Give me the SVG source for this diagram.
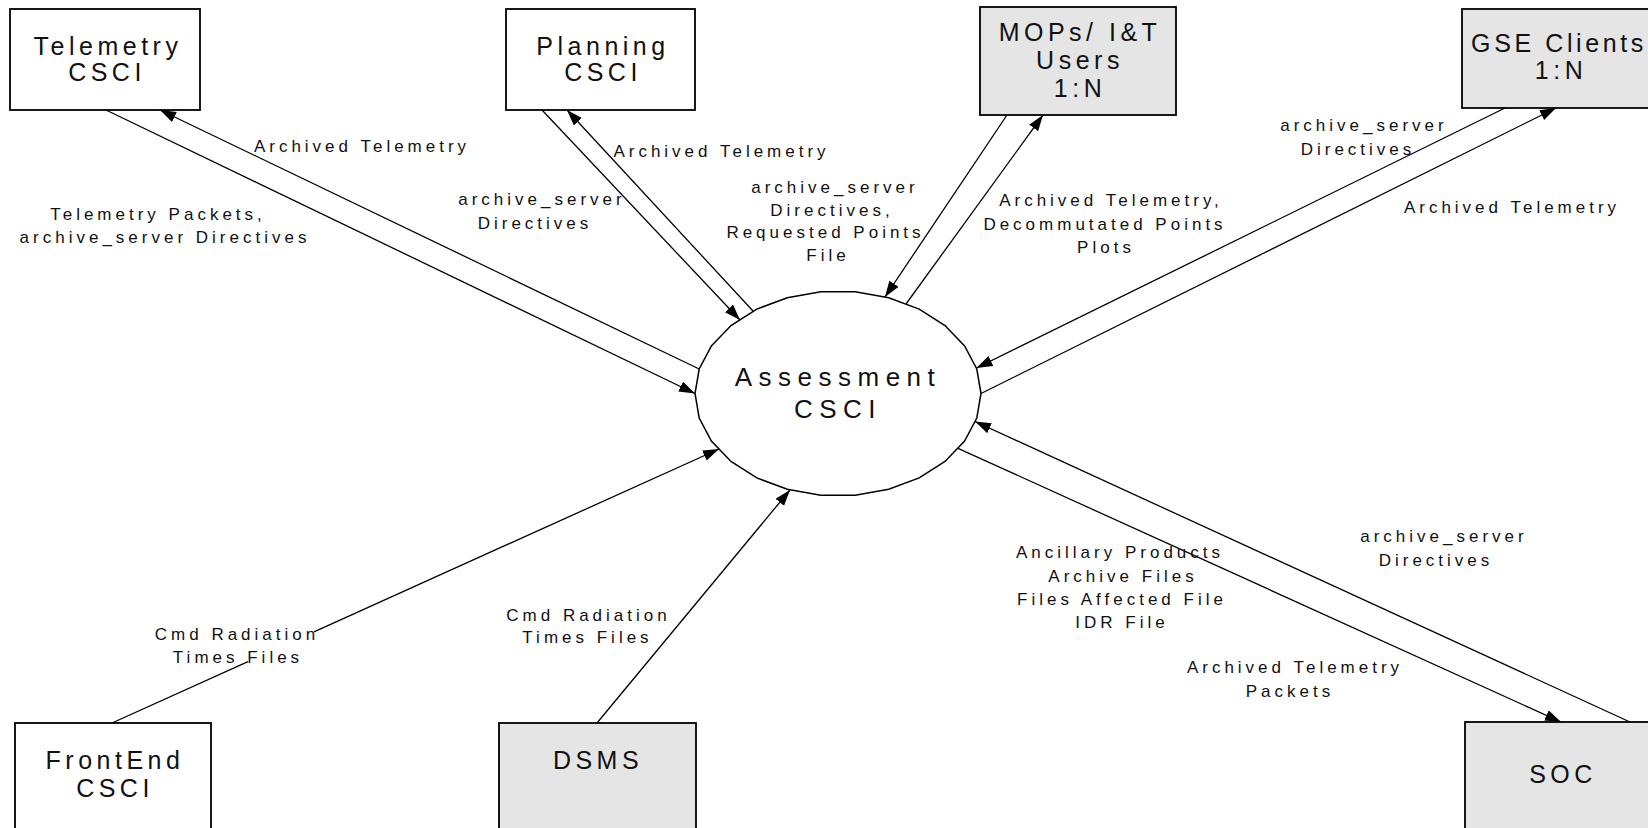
<svg xmlns="http://www.w3.org/2000/svg" width="1648" height="828" viewBox="0 0 1648 828">
<style>
.box{fill:#fff;stroke:#000;stroke-width:1.8}
.ext{fill:#e5e5e5;stroke:#000;stroke-width:1.8}
.bt{font-family:"Liberation Sans",Arial,sans-serif;font-size:25px;letter-spacing:4.5px;fill:#111;text-anchor:middle}
.lb{font-family:"Liberation Sans",Arial,sans-serif;font-size:17px;letter-spacing:4px;fill:#111;text-anchor:middle}
.cn{fill:none;stroke:#000;stroke-width:1.3;marker-end:url(#arr)}
</style>
<defs>
<marker id="arr" markerUnits="userSpaceOnUse" markerWidth="17" markerHeight="12" refX="16" refY="5.5" orient="auto">
<path d="M0,0 L16,5.5 L0,11 z" fill="#000"/>
</marker>
</defs>
<rect width="1648" height="828" fill="#fff"/>

<g id="connectors">
<path class="cn" d="M106,110 L695,393.5"/>
<path class="cn" d="M699.2,369 L160,110"/>
<path class="cn" d="M542,110 L740,320"/>
<path class="cn" d="M753,311 L567,110"/>
<path class="cn" d="M1007,115 L885,297"/>
<path class="cn" d="M906,304 L1043,115"/>
<path class="cn" d="M1505,108 L976.5,368"/>
<path class="cn" d="M981,393.5 L1556,108"/>
<path class="cn" d="M958,448.3 L1561,722"/>
<path class="cn" d="M1630,722 L975,421.5"/>
<path class="cn" d="M112,723 L248,661.6 M314,631.8 L719,449"/>
<path class="cn" d="M597,723 L790,490"/>
</g>

<g id="labels">
<text class="lb" x="362" y="152">Archived Telemetry</text>
<text class="lb" x="158" y="220">Telemetry Packets,</text>
<text class="lb" x="165" y="243">archive_server Directives</text>
<text class="lb" x="721.5" y="157">Archived Telemetry</text>
<text class="lb" x="542" y="205">archive_server</text>
<text class="lb" x="535" y="229">Directives</text>
<text class="lb" x="835" y="193">archive_server</text>
<text class="lb" x="832" y="216">Directives,</text>
<text class="lb" x="825.5" y="238">Requested Points</text>
<text class="lb" x="828" y="261">File</text>
<text class="lb" x="1111" y="206">Archived Telemetry,</text>
<text class="lb" x="1105" y="230">Decommutated Points</text>
<text class="lb" x="1106" y="253">Plots</text>
<text class="lb" x="1364" y="131">archive_server</text>
<text class="lb" x="1358" y="155">Directives</text>
<text class="lb" x="1512" y="213">Archived Telemetry</text>
<text class="lb" x="237" y="640">Cmd Radiation</text>
<text class="lb" x="238" y="663">Times Files</text>
<text class="lb" x="588.5" y="621">Cmd Radiation</text>
<text class="lb" x="587.5" y="643">Times Files</text>
<text class="lb" x="1444" y="542">archive_server</text>
<text class="lb" x="1436" y="566">Directives</text>
<text class="lb" x="1295" y="673">Archived Telemetry</text>
<text class="lb" x="1290" y="697">Packets</text>
<text class="lb" x="1120" y="558">Ancillary Products</text>
<text class="lb" x="1123" y="582">Archive Files</text>
<text class="lb" x="1122" y="605">Files Affected File</text>
<text class="lb" x="1122" y="628">IDR File</text>
</g>

<g id="telemetry">
<rect class="box" x="10" y="9" width="190" height="101"/>
<text class="bt" x="108" y="55">Telemetry</text>
<text class="bt" x="107" y="81">CSCI</text>
</g>
<g id="planning">
<rect class="box" x="506" y="9" width="189" height="101"/>
<text class="bt" x="603" y="55">Planning</text>
<text class="bt" x="603" y="81">CSCI</text>
</g>
<g id="mops">
<rect class="ext" x="980" y="7" width="196" height="108"/>
<text class="bt" x="1080" y="41">MOPs/ I&amp;T</text>
<text class="bt" x="1080" y="69">Users</text>
<text class="bt" x="1080" y="97">1:N</text>
</g>
<g id="gse">
<rect class="ext" x="1462" y="9" width="196" height="99"/>
<text class="bt" style="letter-spacing:3.6px" x="1559" y="52">GSE Clients</text>
<text class="bt" x="1561" y="79">1:N</text>
</g>
<g id="assessment">
<polygon fill="#fff" stroke="#000" stroke-width="1.5" points="981,393.5 976.8,369 964.6,345.9 945,325.5 919.2,309.1 888.7,297.7 855.2,291.75 820.8,291.75 787.3,297.7 756.8,309.1 731,325.5 711.4,345.9 699.2,369 695,393.5 699.2,418 711.4,441.1 731,461.5 756.8,477.9 787.3,489.3 820.8,495.25 855.2,495.25 888.7,489.3 919.2,477.9 945,461.5 964.6,441.1 976.8,418"/>
<text class="bt" style="font-size:26px;letter-spacing:6.5px" x="838" y="386">Assessment</text>
<text class="bt" style="font-size:26px;letter-spacing:6.5px" x="838" y="418">CSCI</text>
</g>
<g id="frontend">
<rect class="box" x="15" y="723" width="196" height="120"/>
<text class="bt" x="115" y="769">FrontEnd</text>
<text class="bt" x="115" y="797">CSCI</text>
</g>
<g id="dsms">
<rect class="ext" x="499" y="723" width="197" height="120"/>
<text class="bt" x="598" y="769">DSMS</text>
</g>
<g id="soc">
<rect class="ext" x="1465" y="722" width="195" height="120"/>
<text class="bt" x="1563" y="783">SOC</text>
</g>
</svg>
